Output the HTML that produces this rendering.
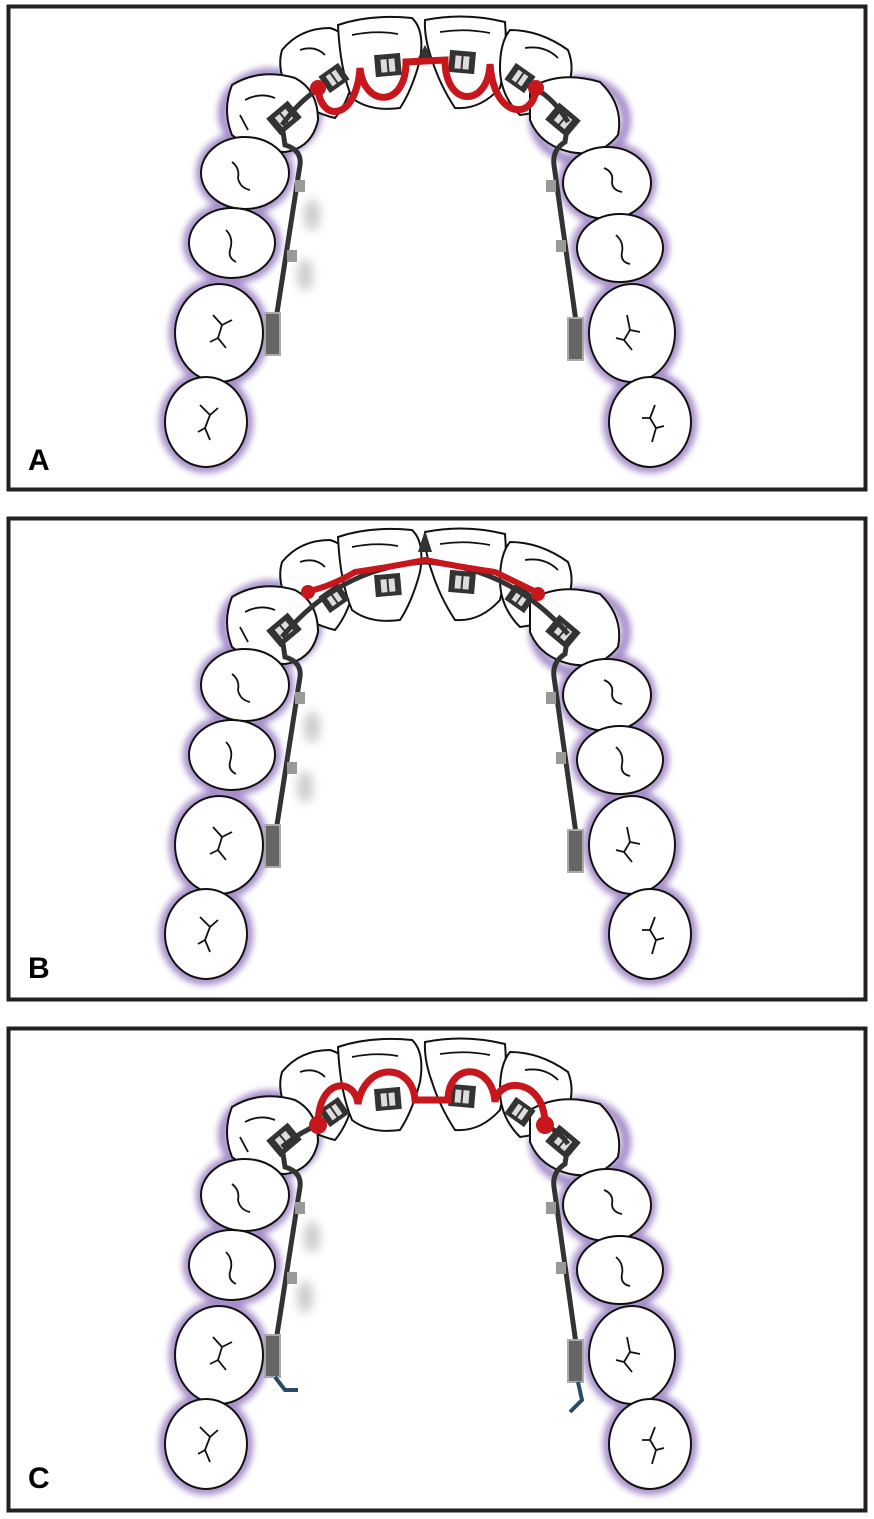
<!DOCTYPE html>
<html><head><meta charset="utf-8"><style>
html,body{margin:0;padding:0;background:#fff;}
svg{display:block;}
text{font-family:"Liberation Sans",sans-serif;font-weight:bold;}
</style></head><body>
<svg width="874" height="1519" viewBox="0 0 874 1519" xmlns="http://www.w3.org/2000/svg">
<defs>
<filter id="glow" x="-20%" y="-20%" width="140%" height="140%"><feGaussianBlur stdDeviation="3.5"/></filter>
<filter id="sh" x="-50%" y="-50%" width="200%" height="200%"><feGaussianBlur stdDeviation="5"/></filter>
<g id="teeth">
  <g fill="none" stroke="#a58cc9" stroke-width="10" filter="url(#glow)">
    <ellipse cx="206" cy="422" rx="42" ry="46"/>
    <ellipse cx="219" cy="333" rx="45" ry="50"/>
    <ellipse cx="232" cy="243" rx="44" ry="36"/>
    <ellipse cx="245" cy="173" rx="44" ry="37"/>
    <ellipse cx="270" cy="113" rx="47" ry="40"/>
    <ellipse cx="650" cy="422" rx="42" ry="46"/>
    <ellipse cx="632" cy="333" rx="44" ry="50"/>
    <ellipse cx="620" cy="248" rx="44" ry="35"/>
    <ellipse cx="607" cy="183" rx="44" ry="37"/>
    <ellipse cx="580" cy="120" rx="46" ry="40"/>
  </g>
  <g fill="#fff" stroke="#111" stroke-width="2">
    <path d="M282,50 Q300,28 330,28 Q355,35 355,70 Q350,100 335,118 Q310,112 290,95 Q276,70 282,50Z"/>
    <path d="M338,25 Q370,14 412,18 Q425,30 420,60 Q412,90 400,108 Q370,112 352,98 Q340,70 338,25Z"/>
    <path d="M425,20 Q465,12 505,22 Q508,55 500,88 Q480,110 455,108 Q440,85 432,60 Q424,38 425,20Z"/>
    <path d="M510,30 Q540,30 568,50 Q578,75 560,100 Q545,112 520,115 Q500,95 500,68 Q500,42 510,30Z"/>
    <path d="M232,85 Q260,68 295,78 Q318,90 318,120 Q312,148 285,152 Q250,150 232,135 Q222,110 232,85Z"/>
    <path d="M530,88 Q560,70 600,82 Q624,105 618,135 Q600,158 570,152 Q540,145 530,120Z"/>
    <ellipse cx="245" cy="173" rx="44" ry="36"/>
    <ellipse cx="232" cy="243" rx="43" ry="35"/>
    <ellipse cx="219" cy="333" rx="44" ry="49"/>
    <ellipse cx="206" cy="422" rx="41" ry="45"/>
    <ellipse cx="607" cy="183" rx="44" ry="36"/>
    <ellipse cx="620" cy="248" rx="43" ry="34"/>
    <ellipse cx="632" cy="333" rx="43" ry="49"/>
    <ellipse cx="650" cy="422" rx="41" ry="45"/>
  </g>
  <g fill="none" stroke="#111" stroke-width="1.8">
    <path d="M300,50 Q315,45 325,55"/><path d="M352,35 Q375,30 398,34"/>
    <path d="M440,32 Q465,28 490,33"/><path d="M525,48 Q545,45 558,58"/>
    <path d="M245,100 Q260,92 275,98 M240,115 L248,130"/>
    <path d="M232,162 Q240,168 238,178 Q240,188 250,190"/>
    <path d="M226,230 Q234,238 230,250 Q228,258 236,262"/>
    <path d="M213,315 L222,325 L218,338 L226,348 M222,325 L232,320 M218,338 L210,342"/>
    <path d="M200,405 L210,415 L205,428 L210,440 M210,415 L218,408 M205,428 L198,432"/>
    <path d="M604,168 Q614,172 612,182 Q612,190 622,192"/>
    <path d="M616,235 Q624,242 622,252 Q620,262 630,264"/>
    <path d="M627,315 L630,330 L624,340 L632,350 M630,330 L640,332 M624,340 L616,338"/>
    <path d="M655,405 L650,418 L656,428 L652,442 M650,418 L642,418 M656,428 L664,426"/>
  </g>
</g>
<g id="side">
  <ellipse cx="312" cy="215" rx="8" ry="16" fill="#999" opacity="0.5" filter="url(#sh)"/>
  <ellipse cx="305" cy="275" rx="8" ry="16" fill="#999" opacity="0.5" filter="url(#sh)"/>
  <path d="M272,345 L300,165 Q302,150 285,145 L282,125" fill="none" stroke="#333" stroke-width="5" stroke-linecap="round"/>
  <path d="M580,350 L554,165 Q552,150 565,142 L568,122" fill="none" stroke="#333" stroke-width="5" stroke-linecap="round"/>
  <rect x="265" y="313" width="15" height="42" fill="#666" stroke="#aaa" stroke-width="2"/>
  <rect x="568" y="318" width="15" height="42" fill="#666" stroke="#aaa" stroke-width="2"/>
  <rect x="295" y="180" width="10" height="12" fill="#999"/>
  <rect x="287" y="250" width="10" height="12" fill="#999"/>
  <rect x="546" y="180" width="10" height="12" fill="#999"/>
  <rect x="556" y="240" width="10" height="12" fill="#999"/>
  <g transform="translate(284,118) rotate(-40)"><rect x="-14" y="-11" width="28" height="22" fill="#333"/><rect x="-7" y="-6" width="6" height="12" fill="#ddd"/><rect x="1" y="-6" width="6" height="12" fill="#ddd"/></g>
  <g transform="translate(563,120) rotate(40)"><rect x="-14" y="-11" width="28" height="22" fill="#333"/><rect x="-7" y="-6" width="6" height="12" fill="#ddd"/><rect x="1" y="-6" width="6" height="12" fill="#ddd"/></g>
</g>
<g id="front">
  <g transform="translate(334,78) rotate(-35)"><rect x="-12" y="-10" width="24" height="20" fill="#333"/><rect x="-6" y="-6" width="5" height="12" fill="#ddd"/><rect x="1" y="-6" width="5" height="12" fill="#ddd"/></g>
  <g transform="translate(388,66) rotate(-5)"><rect x="-13" y="-12" width="26" height="22" fill="#333"/><rect x="-7" y="-7" width="6" height="13" fill="#ddd"/><rect x="1" y="-7" width="6" height="13" fill="#ddd"/></g>
  <g transform="translate(462,63) rotate(5)"><rect x="-13" y="-12" width="26" height="22" fill="#333"/><rect x="-7" y="-7" width="6" height="13" fill="#ddd"/><rect x="1" y="-7" width="6" height="13" fill="#ddd"/></g>
  <g transform="translate(520,78) rotate(35)"><rect x="-12" y="-10" width="24" height="20" fill="#333"/><rect x="-6" y="-6" width="5" height="12" fill="#ddd"/><rect x="1" y="-6" width="5" height="12" fill="#ddd"/></g>
</g>
</defs>

<rect x="8.5" y="6.5" width="857" height="483" fill="#fff" stroke="#231f20" stroke-width="4"/>
<use href="#teeth"/>
<use href="#side"/>
<use href="#front"/>
<path d="M282,125 Q300,100 320,88 M535,88 Q555,100 568,122" fill="none" stroke="#333" stroke-width="5"/>
<path d="M318,88 C320,122 356,122 360,68 C364,108 406,108 406,62 L445,60 C445,108 488,108 490,64 C494,120 534,120 536,88" fill="none" stroke="#c8161d" stroke-width="7"/>
<circle cx="318" cy="88" r="8" fill="#c8161d"/><circle cx="536" cy="88" r="8" fill="#c8161d"/>
<path d="M418,58 L425,45 L432,58Z" fill="#333"/>
<text x="28" y="470" font-size="30">A</text>

<rect x="8.5" y="518.5" width="857" height="481" fill="#fff" stroke="#231f20" stroke-width="4"/>
<g transform="translate(0,512)">
<use href="#teeth"/>
<use href="#side"/>
<use href="#front" transform="translate(0,8)"/>
<path d="M282,125 Q340,55 425,50 Q510,55 568,122" fill="none" stroke="#333" stroke-width="5"/>
<path d="M305,80 Q330,75 355,60 Q390,55 425,48 Q460,55 495,60 Q520,72 540,82" fill="none" stroke="#c8161d" stroke-width="6"/>
<circle cx="308" cy="80" r="7" fill="#c8161d"/><circle cx="538" cy="82" r="7" fill="#c8161d"/>
<path d="M418,40 L425,18 L432,40Z" fill="#333"/>
</g>
<text x="28" y="978" font-size="30">B</text>

<rect x="8.5" y="1028.5" width="857" height="482" fill="#fff" stroke="#231f20" stroke-width="4"/>
<g transform="translate(0,1022)">
<use href="#teeth"/>
<use href="#side"/>
<use href="#front" transform="translate(0,12)"/>
<path d="M282,125 Q300,110 318,103 M545,103 Q560,110 568,122" fill="none" stroke="#333" stroke-width="5"/>
<path d="M318,103 C318,55 355,55 358,82 C365,40 412,40 415,78 L448,78 C448,40 492,40 495,80 C498,55 545,55 545,103" fill="none" stroke="#c8161d" stroke-width="7"/>
<circle cx="318" cy="103" r="9" fill="#c8161d"/><circle cx="545" cy="103" r="9" fill="#c8161d"/>
<path d="M275,355 L285,368 L298,368" fill="none" stroke="#2a4a6a" stroke-width="4"/>
<path d="M578,360 L582,378 L570,390" fill="none" stroke="#2a4a6a" stroke-width="4"/>
</g>
<text x="28" y="1488" font-size="30">C</text>
</svg>
</body></html>
